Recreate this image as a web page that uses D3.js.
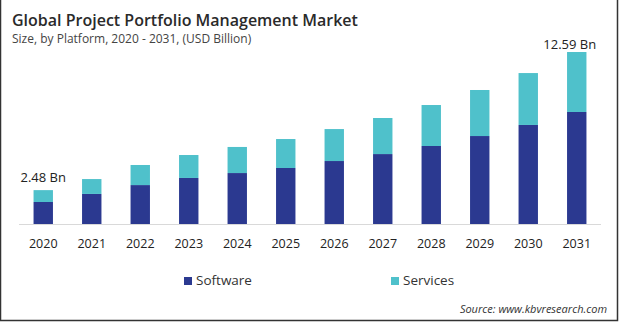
<!DOCTYPE html>
<html>
<head>
<meta charset="utf-8">
<script src="https://cdn.jsdelivr.net/npm/d3@7"></script>
<style>
    html, body { margin: 0; padding: 0; background: #fff; }
    svg { display: block; font-family: 'Open Sans', sans-serif; }
</style>
</head>
<body>
<div id="contents"></div>
<script>
var years    = ['2020', '2021', '2022', '2023', '2024', '2025', '2026', '2027', '2028', '2029', '2030', '2031'];
var software = [1.61, 2.20, 2.85, 3.37, 3.73, 4.10, 4.61, 5.12, 5.71, 6.44, 7.25, 8.20];
var services = [0.87, 1.09, 1.47, 1.68, 1.91, 2.12, 2.34, 2.64, 3.00, 3.37, 3.80, 4.39];
var seriesNames = ['Software', 'Services'];
var endLabels = {'2020': '2.48 Bn', '2031': '12.59 Bn'};

window.onload = function(){
    'use strict';
    var WIDTH   = 620;
    var HEIGHT  = 322;
    var BASE    = 224;
    var COLORS  = {'Software': '#2b3990', 'Services': '#4fc1cb'};

    var svg = d3.select('#contents')
        .append('svg')
        .attr('width', WIDTH)
        .attr('height', HEIGHT);

    // frame: left, right and bottom edges only
    svg.append('path')
        .attr('d', 'M0.5,0 V' + (HEIGHT - 1.5) + ' H' + (WIDTH - 2.5) + ' V0')
        .attr('fill', 'none')
        .attr('stroke', '#333')
        .attr('stroke-width', 1.5);

    svg.append('text')
        .attr('x', 12)
        .attr('y', 26)
        .attr('font-size', 16)
        .attr('font-weight', 600)
        .attr('fill', '#2a2a2a')
        .text('Global Project Portfolio Management Market');

    svg.append('text')
        .attr('x', 12)
        .attr('y', 43)
        .attr('font-size', 12)
        .attr('fill', '#444')
        .text('Size, by Platform, 2020 - 2031, (USD Billion)');

    var x = d3.scaleBand()
        .domain(years)
        .range([19, 601])
        .paddingInner(0.6)
        .paddingOuter(0.3);

    var y = d3.scaleLinear()
        .domain([0, 14])
        .range([BASE, BASE - 14 * 13.66]);

    var rows = years.map(function(yr, i){
        return {year: yr, Software: software[i], Services: services[i]};
    });
    var stacked = d3.stack().keys(seriesNames)(rows);

    svg.append('g')
        .selectAll('g')
        .data(stacked)
        .enter()
        .append('g')
        .attr('fill', function(d){ return COLORS[d.key]; })
        .selectAll('rect')
        .data(function(d){ return d; })
        .enter()
        .append('rect')
        .attr('x', function(d){ return x(d.data.year); })
        .attr('width', x.bandwidth())
        .attr('y', function(d){ return y(d[1]); })
        .attr('height', function(d){ return y(d[0]) - y(d[1]); });

    // baseline and year labels
    var axis = svg.append('g')
        .attr('transform', 'translate(0,' + BASE + ')')
        .call(d3.axisBottom(x).tickSize(0).tickPadding(15));
    axis.select('.domain')
        .attr('d', 'M19,0.5H601')
        .attr('stroke', '#d9d9d9');
    axis.selectAll('text')
        .attr('font-family', "'Open Sans', sans-serif")
        .attr('font-size', 12.5)
        .attr('fill', '#222');

    // totals on the first and last bars
    svg.append('g')
        .selectAll('text')
        .data(rows.filter(function(d){ return endLabels[d.year]; }))
        .enter()
        .append('text')
        .attr('x', function(d, i){ return x(d.year) + x.bandwidth() / 2 - (i ? 7 : 0); })
        .attr('y', function(d, i){ return y(d.Software + d.Services) - (i ? 3 : 8); })
        .attr('text-anchor', 'middle')
        .attr('font-size', 13)
        .attr('fill', '#222')
        .text(function(d){ return endLabels[d.year]; });

    // legend
    var legend = svg.append('g')
        .selectAll('g')
        .data(seriesNames)
        .enter()
        .append('g')
        .attr('transform', function(d, i){ return 'translate(' + (184 + i * 207) + ',277)'; });
    legend.append('rect')
        .attr('width', 8)
        .attr('height', 8)
        .attr('fill', function(d){ return COLORS[d]; });
    legend.append('text')
        .attr('x', 12)
        .attr('y', 8)
        .attr('font-size', 13.5)
        .attr('fill', '#333')
        .text(function(d){ return d; });

    svg.append('text')
        .attr('x', 607)
        .attr('y', 313)
        .attr('text-anchor', 'end')
        .attr('font-size', 11)
        .attr('font-style', 'italic')
        .attr('fill', '#333')
        .text('Source: www.kbvresearch.com');
};
</script>
</body>
</html>
